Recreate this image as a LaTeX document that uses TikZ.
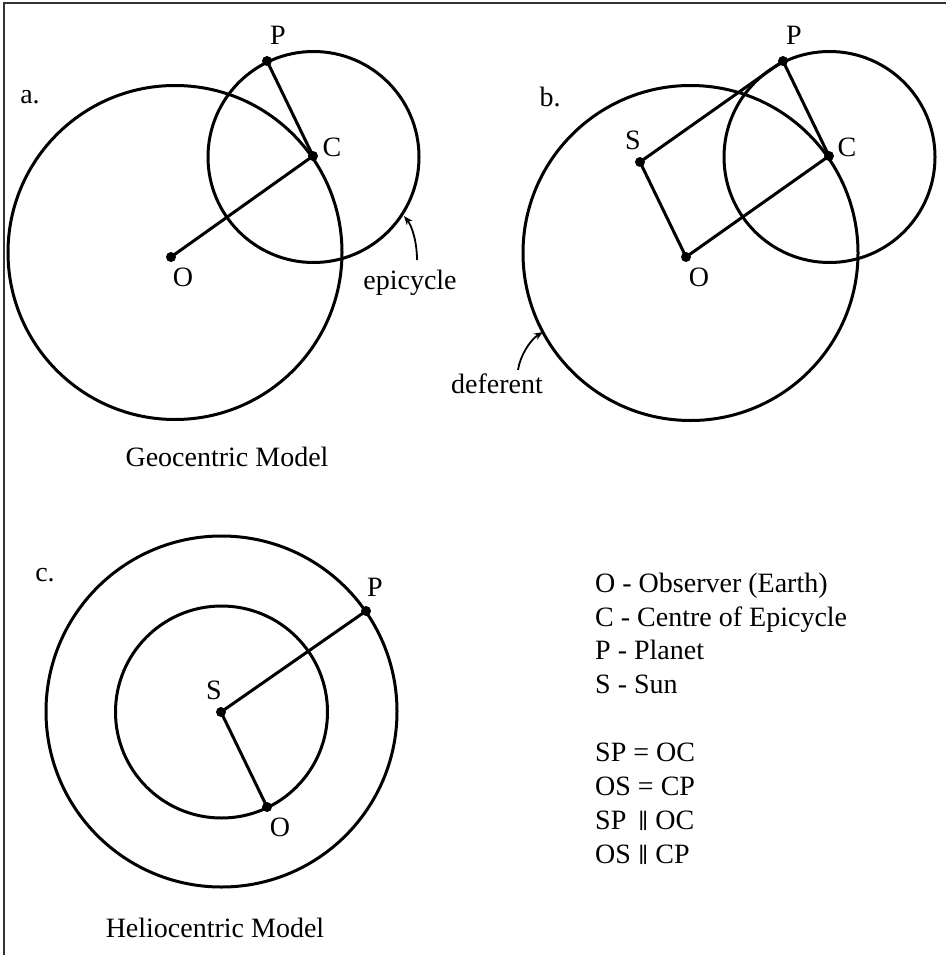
\documentclass[tikz,border=0pt]{standalone}
\usepackage{fontspec}
\usepackage{graphicx}
\setmainfont{Liberation Serif}
\newfontfamily\symfnt{DejaVu Serif}
\usetikzlibrary{arrows.meta}
\newcommand{\parsym}{\raisebox{0.02em}{\scalebox{0.8}[0.75]{\symfnt ∥}}}
\begin{document}
\begin{tikzpicture}[x=1pt,y=-1pt,
  orbit/.style={line width=3pt},
  link/.style={line width=3pt},
  dot/.style={circle,fill=black,inner sep=0pt,minimum size=10pt},
  txt/.style={inner sep=0pt,font=\fontsize{28}{34}\selectfont},
  legend/.style={txt,anchor=base west},
  pointer/.style={line width=1.8pt,-{Stealth[length=9pt,width=7pt]}},
  frameline/.style={line width=2pt,draw=black!80}]
\useasboundingbox (0,0) rectangle (946,955);
\draw[frameline] (3.5,955) -- (3.5,3.5) -- (946,3.5);

% ---------- panel a ----------
\draw[orbit] (175,252.5) circle (167);
\draw[orbit] (313.5,157) circle (105.5);
\node[dot] (aO) at (171,257) {};
\node[dot] (aC) at (313,156) {};
\node[dot] (aP) at (267,61) {};
\draw[link] (aO.center) -- (aC.center) -- (aP.center);
\node[txt] (aPl) at (278,35) {P};
\node[txt] (aCl) at (332,147) {C};
\node[txt] (aOl) at (183,277) {O};
\node[txt] (alab) at (30,97) {a.};
\node[txt] (epi) at (410,282.5) {epicycle};
\coordinate (epiS) at (417,260);
\coordinate (epiT) at (404,216);
\draw[pointer] (epiS) .. controls (417,242) and (412,226) .. (epiT);
\node[txt] (geo) at (227,456.5) {Geocentric Model};

% ---------- panel b ----------
\draw[orbit] (690.5,253) circle (167.5);
\draw[orbit] (829.5,157) circle (105.5);
\node[dot] (bO) at (686,257) {};
\node[dot] (bC) at (829,156) {};
\node[dot] (bP) at (783,61) {};
\node[dot] (bS) at (640,162) {};
\draw[link] (bS.center) -- (bP.center) -- (bC.center) -- (bO.center) -- cycle;
\node[txt] (bPl) at (794,35) {P};
\node[txt] (bSl) at (633,140) {S};
\node[txt] (bCl) at (847,147) {C};
\node[txt] (bOl) at (699,277) {O};
\node[txt] (blab) at (550,97) {b.};
\node[txt] (defl) at (497,383.5) {deferent};
\coordinate (defS) at (518,370);
\coordinate (defT) at (543,332);
\draw[pointer] (defS) .. controls (520,356) and (530,340) .. (defT);

% ---------- panel c ----------
\draw[orbit] (221.5,711.5) circle (175.5);
\draw[orbit] (221.5,712) circle (106);
\node[dot] (cS) at (221,712) {};
\node[dot] (cP) at (366,611) {};
\node[dot] (cO) at (267,807) {};
\draw[link] (cP.center) -- (cS.center) -- (cO.center);
\node[txt] (cSl) at (214,690) {S};
\node[txt] (cPl) at (375,587) {P};
\node[txt] (cOl) at (280,827) {O};
\node[txt] (clab) at (45,575) {c.};
\node[txt] (helio) at (215,928) {Heliocentric Model};

% ---------- legend ----------
\node[legend] (l1) at (595,592) {O - Observer (Earth)};
\node[legend] (l2) at (595,626) {C - Centre of Epicycle};
\node[legend] (l3) at (595,659) {P - Planet};
\node[legend] (l4) at (595,693) {S - Sun};
\node[legend] (l5) at (595,761) {SP = OC};
\node[legend] (l6) at (595,795) {OS = CP};
\node[legend] (l7) at (595,829) {SP\, \parsym\ OC};
\node[legend] (l8) at (595,863) {OS \parsym\ CP};
\end{tikzpicture}
\end{document}
